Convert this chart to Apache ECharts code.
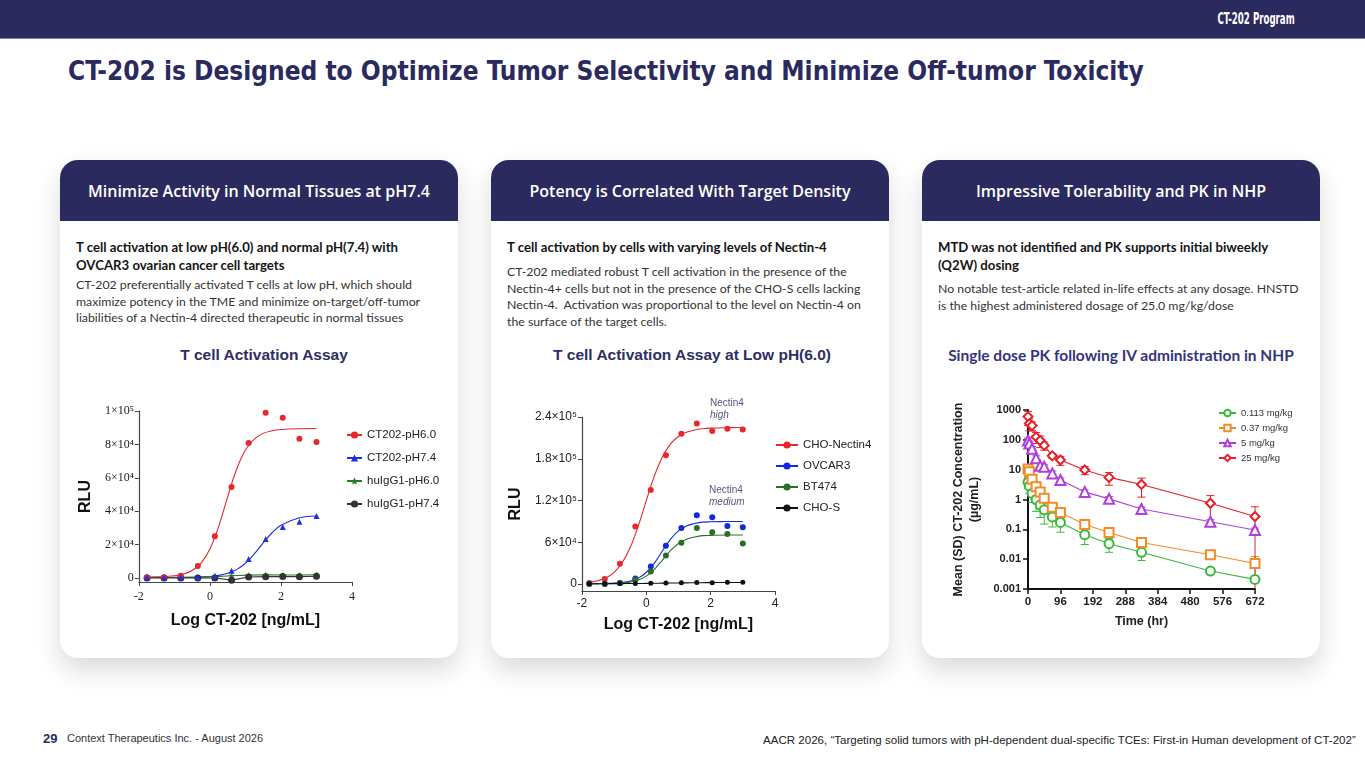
<!DOCTYPE html>
<html>
<head>
<meta charset="utf-8">
<script src="https://cdn.jsdelivr.net/npm/echarts@6/dist/echarts.min.js"></script>
<style>
  body { margin: 0; width: 1365px; height: 768px; position: relative; background: #fff; overflow: hidden;
         font-family: "Liberation Sans", Arial, sans-serif; }
  .topbar { position: absolute; left: 0; top: 0; width: 1365px; height: 38px; background: #2b2a5e;
            border-bottom: 1px solid #8080aa; }
  .program { position: absolute; right: 70px; top: 10px; color: #fff; font-weight: bold; font-size: 15px;
             font-family: "DejaVu Sans Condensed", "Liberation Sans Narrow", "DejaVu Sans", sans-serif;
             transform: scaleX(0.64); transform-origin: right center; white-space: nowrap; }
  .title { position: absolute; left: 68px; top: 56px; color: #2b2a5e; font-weight: bold; font-size: 26px;
           font-family: "DejaVu Sans Condensed", "Liberation Sans Narrow", "DejaVu Sans", sans-serif; white-space: nowrap; }
  .card { position: absolute; top: 160px; width: 398px; height: 498px; background: #fff; border-radius: 18px;
          box-shadow: 0 12px 26px rgba(0,0,0,0.15); overflow: hidden; }
  .hd { height: 61px; background: #2b2a5e; color: #fff; display: flex; align-items: center; justify-content: center;
        font-family: "Open Sans", sans-serif; font-weight: 600; font-size: 16px; }
  .txt { position: absolute; left: 16px; top: 78px; width: 372px; }
  .lead { font-family: "Lato", sans-serif; font-weight: bold; font-size: 13.2px; line-height: 18px; color: #151515; }
  .body { font-family: "Lato", sans-serif; font-size: 12.3px; line-height: 16.5px; color: #333; }
  .ctitle { position: absolute; top: 186px; left: 0; width: 100%; text-align: center; font-weight: bold; font-size: 15.5px;
            color: #2e2e66; }
  .chart { position: absolute; }
  .foot { position: absolute; font-size: 11px; color: #333; white-space: nowrap; }
</style>
</head>
<body>
<div class="topbar"><div class="program">CT-202 Program</div></div>
<div class="title">CT-202 is Designed to Optimize Tumor Selectivity and Minimize Off-tumor Toxicity</div>

<div class="card" style="left:60px">
  <div class="hd">Minimize Activity in Normal Tissues at pH7.4</div>
  <div class="txt">
    <div class="lead">T cell activation at low pH(6.0) and normal pH(7.4) with OVCAR3 ovarian cancer cell targets</div>
    <div class="body" style="margin-top:3px">CT-202 preferentially activated T cells at low pH, which should maximize potency in the TME and minimize on-target/off-tumor liabilities of a Nectin-4 directed therapeutic in normal tissues</div>
  </div>
  <div class="ctitle" style="left:5px">T cell Activation Assay</div>
</div>

<div class="card" style="left:491px">
  <div class="hd">Potency is Correlated With Target Density</div>
  <div class="txt">
    <div class="lead">T cell activation by cells with varying levels of Nectin-4</div>
    <div class="body" style="margin-top:8px">CT-202 mediated robust T cell activation in the presence of the Nectin-4+ cells but not in the presence of the CHO-S cells lacking Nectin-4.&nbsp; Activation was proportional to the level on Nectin-4 on the surface of the target cells.</div>
  </div>
  <div class="ctitle" style="left:2px">T cell Activation Assay at Low pH(6.0)</div>
</div>

<div class="card" style="left:922px">
  <div class="hd">Impressive Tolerability and PK in NHP</div>
  <div class="txt">
    <div class="lead">MTD was not identified and PK supports initial biweekly (Q2W) dosing</div>
    <div class="body" style="margin-top:7px">No notable test-article related in-life effects at any dosage. HNSTD is the highest administered dosage of 25.0 mg/kg/dose</div>
  </div>
  <div class="ctitle" style="font-family:Lato,sans-serif;color:#34347e">Single dose PK following IV administration in NHP</div>
</div>

<div id="c1" class="chart" style="left:70px;top:380px;width:385px;height:260px"></div>
<div id="c2" class="chart" style="left:500px;top:380px;width:385px;height:260px"></div>
<div id="c3" class="chart" style="left:925px;top:380px;width:390px;height:260px"></div>

<div class="foot" style="left:43px;top:731px;font-weight:bold;font-size:13px;color:#2b2a5e">29</div>
<div class="foot" style="left:67px;top:732px">Context Therapeutics Inc. - August 2026</div>
<div class="foot" style="left:763px;top:734px;font-size:11.55px;color:#222">AACR 2026, “Targeting solid tumors with pH-dependent dual-specific TCEs: First-in Human development of CT-202”</div>

<script>
// ---------- shared x values (log dose) ----------
const logDose = [-1.77, -1.29, -0.82, -0.34, 0.14, 0.61, 1.09, 1.57, 2.05, 2.52, 3.0];
const fitX = [-1.75, -1.5, -1.25, -1, -0.75, -0.5, -0.25, 0, 0.25, 0.5, 0.75, 1, 1.25, 1.5, 1.75, 2, 2.5, 3];

// ---------- chart 1: T cell activation assay ----------
const names1 = ['CT202-pH6.0', 'CT202-pH7.4', 'huIgG1-pH6.0', 'huIgG1-pH7.4'];
const ct202pH60 = [500, 500, 1400, 7200, 25000, 54500, 80800, 99000, 96000, 83400, 81400];
const ct202pH74 = [300, 300, 400, 600, 1400, 4400, 11400, 23400, 30500, 33700, 37100];
const huIgG1pH60 = [300, 300, 300, 500, 800, 1300, 1700, 1900, 1800, 1800, 1900];
const huIgG1pH74 = [0, 0, 0, 0, 0, -1300, 600, 800, 900, 800, 1000];
const fitPH60 = [600, 670, 870, 1320, 2300, 4500, 8900, 17400, 31100, 48600, 65000, 76600, 83200, 86600, 88200, 88900, 89400, 89500];
const fitPH74 = [300, 310, 320, 340, 370, 450, 600, 900, 1550, 2800, 5000, 8850, 14400, 21000, 27100, 31600, 35900, 37100];
const rluTicks1 = [0, 20000, 40000, 60000, 80000, 100000];
const rluLabels1 = ['0', '2×10⁴', '4×10⁴', '6×10⁴', '8×10⁴', '1×10⁵'];

// ---------- chart 2: activation at low pH ----------
const names2 = ['CHO-Nectin4', 'OVCAR3', 'BT474', 'CHO-S'];
const choNectin4 = [1400, 7200, 29000, 82500, 135000, 185000, 216000, 230500, 220000, 223000, 222000];
const ovcar3 = [500, 300, 1400, 8100, 25300, 54900, 80600, 98800, 95900, 83500, 81600];
const bt474 = [0, 0, 1400, 6200, 18100, 41000, 59200, 80600, 74400, 72000, 58200];
const choS = [300, 400, 600, 800, 1200, 1500, 2000, 2200, 2000, 2400, 2500];
const fitChoNectin4 = [2470, 4730, 9000, 16830, 30490, 52400, 83300, 119900, 155000, 182500, 200900, 211900, 218000, 221300, 223100, 224000, 224700, 225000];
const fitOvcar3 = [570, 660, 850, 1280, 2200, 4250, 8500, 16600, 30000, 47400, 64200, 76300, 83300, 86900, 89000, 89400, 89800, 89900];
const fitBt474 = [350, 400, 530, 820, 1450, 2800, 5700, 11350, 21000, 34300, 47900, 58200, 64400, 67600, 69500, 69900, 70400, 70500];
const fitChoS = [400, 450, 500, 560, 630, 720, 820, 950, 1100, 1250, 1400, 1550, 1700, 1850, 1950, 2050, 2200, 2300];
const rluTicks2 = [0, 60000, 120000, 180000, 240000];
const rluLabels2 = ['0', '6×10⁴', '1.2×10⁵', '1.8×10⁵', '2.4×10⁵'];

// ---------- chart 3: single dose PK ----------
const names3 = ['0.113 mg/kg', '0.37 mg/kg', '5 mg/kg', '25 mg/kg'];
const pkTime = [0.083, 4, 12, 24, 36, 48, 72, 96, 168, 240, 336, 540, 672];
const pk0113 = [3.8, 2.8, 1.6, 1.0, 0.65, 0.45, 0.26, 0.17, 0.066, 0.033, 0.017, 0.004, 0.0021];
const pk037 = [10.5, 8.5, 4.8, 2.7, 1.8, 1.1, 0.55, 0.37, 0.145, 0.078, 0.036, 0.014, 0.0072];
const pk5 = [95, 75, 50, 24, 13.5, 12.5, 7.5, 4.5, 1.8, 1.05, 0.48, 0.18, 0.095];
const pk25 = [600, 350, 300, 125, 95, 65, 29, 21, 9.8, 5.5, 3.2, 0.75, 0.27];
const sd0113 = [1.5, 1.2, 0.8, 0.6, 0.4, 0.3, 0.14, 0.09, 0.035, 0.016, 0.008, 0.0008, 0.0005];
const sd037 = [3, 2, 1, 0.6, 0.4, 0.3, 0.12, 0.08, 0.03, 0.015, 0.01, 0.003, 0.005];
const sd5 = [20, 15, 10, 5, 3, 2, 1.5, 0.8, 0.3, 0.2, 0.08, 0.03, 0.015];
const sd25 = [300, 150, 100, 50, 40, 20, 5, 7, 3, 2.5, 2.0, 0.6, 0.3];
const timeTicks = [0, 96, 192, 288, 384, 480, 576, 672];

const sans = 'Liberation Sans';
const pairs = (xs, ys) => xs.map((x, i) => [x, ys[i]]);
const star = 'path://M0,-10L2.9,-4L9.5,-3.1L4.7,1.5L5.9,8.1L0,5L-5.9,8.1L-4.7,1.5L-9.5,-3.1L-2.9,-4Z';

function fitSeries(name, color, symbol, xs, ys) {
  return { name, type: 'line', smooth: 0.4, showSymbol: false, symbol, symbolSize: 6,
    data: pairs(xs, ys), lineStyle: { color, width: 1.1 }, itemStyle: { color }, z: 2 };
}
function pointSeries(name, color, symbol, size, ys) {
  return { name, type: 'scatter', symbol, symbolSize: size, data: pairs(logDose, ys), itemStyle: { color, opacity: 1 }, z: 3 };
}
function doseAxes(yMin, yMax, ticks, labels, labelFont, labelSize, xNameGap, yNameGap, xMargin) {
  return {
    xAxis: { type: 'value', min: -2, max: 4, interval: 2, name: 'Log CT-202 [ng/mL]', nameLocation: 'middle', nameGap: xNameGap,
      nameTextStyle: { fontFamily: sans, fontWeight: 'bold', fontSize: 16, color: '#111' },
      axisLine: { onZero: false, lineStyle: { color: '#444', width: 1.2 } },
      axisTick: { length: 4, lineStyle: { color: '#444' } }, splitLine: { show: false },
      axisLabel: { fontFamily: labelFont, fontSize: labelSize, color: '#222', margin: xMargin } },
    yAxis: { type: 'value', min: yMin, max: yMax, name: 'RLU', nameLocation: 'middle', nameGap: yNameGap, nameRotate: 90,
      nameTextStyle: { fontFamily: sans, fontWeight: 'bold', fontSize: 16, color: '#111' },
      axisLine: { show: true, onZero: false, lineStyle: { color: '#444', width: 1.2 } },
      axisTick: { show: true, length: 4, customValues: ticks, lineStyle: { color: '#444' } }, splitLine: { show: false },
      axisLabel: { customValues: ticks, formatter: v => labels[ticks.indexOf(v)], fontFamily: labelFont, fontSize: labelSize, color: '#222', margin: 5 } }
  };
}

// chart 1
const chart1 = echarts.init(document.getElementById('c1'));
chart1.setOption(Object.assign({
  animation: false,
  grid: { left: 68, top: 31, width: 214, height: 171 },
  legend: { orient: 'vertical', left: 271, top: 44, itemWidth: 15, itemHeight: 9, itemGap: 11, data: names1,
    textStyle: { fontFamily: sans, fontSize: 11.5, color: '#222' } },
  series: [
    fitSeries(names1[0], '#e8262b', 'circle', fitX, fitPH60),
    pointSeries('p1', '#e8262b', 'circle', 6, ct202pH60),
    fitSeries(names1[1], '#1f2fe0', 'triangle', fitX, fitPH74),
    pointSeries('p2', '#1f2fe0', 'triangle', 6, ct202pH74),
    { name: names1[2], type: 'line', symbol: star, symbolSize: 6, data: pairs(logDose, huIgG1pH60),
      lineStyle: { color: '#2a7a2a', width: 1.1 }, itemStyle: { color: '#2a7a2a' }, z: 2 },
    { name: names1[3], type: 'line', symbol: 'circle', symbolSize: 7, data: pairs(logDose, huIgG1pH74),
      lineStyle: { color: '#333', width: 1.1 }, itemStyle: { color: '#333' }, z: 2 }
  ]
}, doseAxes(-2400, 100000, rluTicks1, rluLabels1, 'Liberation Serif', 12, 31, 37, 9)));

// chart 2
const chart2 = echarts.init(document.getElementById('c2'));
chart2.setOption(Object.assign({
  animation: false,
  grid: { left: 62, top: 37, width: 213, height: 174 },
  legend: { orient: 'vertical', left: 270, top: 54, itemWidth: 22, itemHeight: 9, itemGap: 9, data: names2,
    textStyle: { fontFamily: sans, fontSize: 11.5, color: '#222' } },
  graphic: [
    { type: 'text', left: 210, top: 18, style: { text: 'Nectin4', fill: '#55557a', font: '10px "Liberation Sans"' } },
    { type: 'text', left: 210, top: 30, style: { text: 'high', fill: '#55557a', font: 'italic 10px "Liberation Sans"' } },
    { type: 'text', left: 209, top: 105, style: { text: 'Nectin4', fill: '#55557a', font: '10px "Liberation Sans"' } },
    { type: 'text', left: 209, top: 117, style: { text: 'medium', fill: '#55557a', font: 'italic 10px "Liberation Sans"' } }
  ],
  series: [
    fitSeries(names2[0], '#e8262b', 'circle', fitX, fitChoNectin4),
    pointSeries('q1', '#e8262b', 'circle', 6, choNectin4),
    fitSeries(names2[1], '#1428e0', 'circle', fitX, fitOvcar3),
    pointSeries('q2', '#1428e0', 'circle', 6, ovcar3),
    fitSeries(names2[2], '#2a6e2a', 'circle', fitX, fitBt474),
    pointSeries('q3', '#2a6e2a', 'circle', 6, bt474),
    fitSeries(names2[3], '#111', 'circle', fitX, fitChoS),
    pointSeries('q4', '#111', 'circle', 5, choS)
  ]
}, doseAxes(-10000, 240000, rluTicks2, rluLabels2, sans, 12, 26, 34, 7)));

// chart 3
const pkColors = ['#3cb83c', '#f28c28', '#b040dc', '#e4202a'];
const pkSymbols = ['emptyCircle', 'emptyRect', 'emptyTriangle', 'emptyDiamond'];
const pkValues = [pk0113, pk037, pk5, pk25];
const pkSd = [sd0113, sd037, sd5, sd25];
const pkSeries = [];
pkValues.forEach((vals, k) => {
  const color = pkColors[k];
  pkSeries.push({
    name: names3[k] + ' sd', type: 'custom', z: 1,
    data: pkTime.map((t, i) => [t, Math.max(vals[i] - pkSd[k][i], 0.001), vals[i] + pkSd[k][i], vals[i] - pkSd[k][i] > 0.001 ? 1 : 0]),
    renderItem: (params, api) => {
      const hi = api.coord([api.value(0), api.value(2)]);
      const lo = api.coord([api.value(0), api.value(1)]);
      const kids = [
        { type: 'line', shape: { x1: hi[0], y1: hi[1], x2: lo[0], y2: lo[1] }, style: { stroke: color, lineWidth: 1 } },
        { type: 'line', shape: { x1: hi[0] - 4, y1: hi[1], x2: hi[0] + 4, y2: hi[1] }, style: { stroke: color, lineWidth: 1 } }
      ];
      if (api.value(3)) kids.push({ type: 'line', shape: { x1: lo[0] - 4, y1: lo[1], x2: lo[0] + 4, y2: lo[1] }, style: { stroke: color, lineWidth: 1 } });
      return { type: 'group', children: kids };
    }
  });
  pkSeries.push({
    name: names3[k], type: 'line', symbol: pkSymbols[k], symbolSize: k === 2 ? 10 : 9, z: 3,
    data: pairs(pkTime, vals), lineStyle: { color, width: 1.1 },
    itemStyle: { color, borderColor: color, borderWidth: 1.6 }
  });
});

const chart3 = echarts.init(document.getElementById('c3'));
chart3.setOption({
  animation: false,
  grid: { left: 103, top: 30, width: 227, height: 179 },
  legend: { orient: 'vertical', left: 288, top: 23, itemWidth: 17, itemHeight: 8, itemGap: 5, data: names3,
    textStyle: { fontFamily: sans, fontSize: 9.5, color: '#333' } },
  xAxis: { type: 'value', min: 0, max: 672, interval: 96, name: 'Time (hr)', nameLocation: 'middle', nameGap: 26,
    nameTextStyle: { fontFamily: sans, fontWeight: 'bold', fontSize: 12.5, color: '#222' },
    axisLine: { onZero: false, lineStyle: { color: '#111', width: 2 } },
    axisTick: { length: 5, lineStyle: { color: '#111', width: 1.5 } }, splitLine: { show: false },
    axisLabel: { fontFamily: sans, fontWeight: 'bold', fontSize: 11.5, color: '#222', margin: 7,
      formatter: v => timeTicks.indexOf(v) >= 0 ? String(v) : '' } },
  yAxis: { type: 'log', logBase: 10, min: 0.001, max: 1000, name: 'Mean (SD) CT-202 Concentration\n(µg/mL)',
    nameLocation: 'middle', nameGap: 39, nameRotate: 90,
    nameTextStyle: { fontFamily: sans, fontWeight: 'bold', fontSize: 12.5, color: '#222', lineHeight: 16 },
    axisLine: { show: true, onZero: false, lineStyle: { color: '#111', width: 2 } },
    axisTick: { show: true, length: 5, lineStyle: { color: '#111', width: 1.5 } },
    minorTick: { show: false }, splitLine: { show: false },
    axisLabel: { fontFamily: sans, fontWeight: 'bold', fontSize: 11, color: '#222', margin: 7,
      formatter: v => String(+v.toPrecision(3)) } },
  series: pkSeries
});
</script>
</body>
</html>
